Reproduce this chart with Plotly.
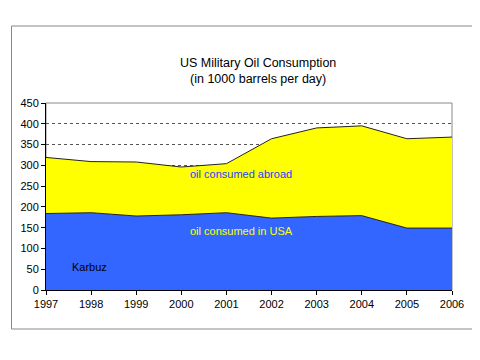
import plotly.graph_objects as go

years = [1997, 1998, 1999, 2000, 2001, 2002, 2003, 2004, 2005, 2006]
usa = [184, 186, 178, 181, 186, 173, 177, 179, 149, 149]
total = [319, 309, 308, 296, 304, 364, 390, 395, 364, 368]
y_ticks = [0, 50, 100, 150, 200, 250, 300, 350, 400, 450]

FONT = "Liberation Sans, Arial, sans-serif"

OFF = 8  # page body margin offset
W, H = 480, 360
L, R, T, B = 40 - OFF, W - (452 - OFF), 103 - OFF, H - (290 - OFF)
pw, ph = W - L - R, H - T - B

def px_x(px):
    return (px - OFF - L) / pw

def px_y(py):
    return (H - B - (py - OFF)) / ph

fig = go.Figure()
fig.add_trace(go.Scatter(x=years, y=usa, mode="lines", fill="tozeroy",
                         fillcolor="#3366FF", line=dict(color="#222222", width=1),
                         hoverinfo="skip"))
fig.add_trace(go.Scatter(x=years, y=total, mode="lines", fill="tonexty",
                         fillcolor="#FFFF00", line=dict(color="#222222", width=1),
                         hoverinfo="skip"))

fig.update_layout(
    width=W, height=H,
    margin=dict(l=L, r=R, t=T, b=B),
    paper_bgcolor="white", plot_bgcolor="white",
    showlegend=False,
    font=dict(family=FONT, size=11, color="black"),
    xaxis=dict(range=[1997, 2006], tickvals=years, ticktext=[str(y) for y in years],
               ticks="outside", ticklen=4, tickcolor="black", showline=True,
               linecolor="black", linewidth=1, showgrid=False, zeroline=False,
               tickfont=dict(size=11, family=FONT)),
    yaxis=dict(range=[0, 450], tickvals=y_ticks, ticks="outside", ticklen=4,
               tickcolor="black", showline=True, linecolor="black", linewidth=1,
               showgrid=True, gridcolor="#555555", griddash="dot", gridwidth=1,
               zeroline=False, tickfont=dict(size=11, family=FONT)),
)

# plot area border (gray) and outer chart border
fig.add_shape(type="rect", xref="paper", yref="paper", x0=0, x1=1, y0=0, y1=1,
              line=dict(color="#888888", width=1), layer="below")
fig.add_shape(type="rect", xref="paper", yref="paper",
              x0=px_x(5), x1=px_x(473), y0=px_y(329), y1=px_y(26),
              line=dict(color="#888888", width=1), layer="below")

fig.add_annotation(text="US Military Oil Consumption<br>(in 1000 barrels per day)",
                   xref="paper", yref="paper", x=px_x(255), y=px_y(54),
                   showarrow=False, font=dict(size=12.5, family=FONT, color="black"),
                   align="center")
fig.add_annotation(text="oil consumed abroad", xref="paper", yref="paper",
                   x=px_x(238), y=px_y(174), showarrow=False,
                   font=dict(size=11, family=FONT, color="#1F3FFF"))
fig.add_annotation(text="oil consumed in USA", xref="paper", yref="paper",
                   x=px_x(238), y=px_y(239), showarrow=False,
                   font=dict(size=11, family=FONT, color="#FFFF00"))
fig.add_annotation(text="Karbuz", xref="paper", yref="paper",
                   x=px_x(64), y=px_y(275), showarrow=False,
                   font=dict(size=11, family=FONT, color="black"))

fig.write_html("out.html")
